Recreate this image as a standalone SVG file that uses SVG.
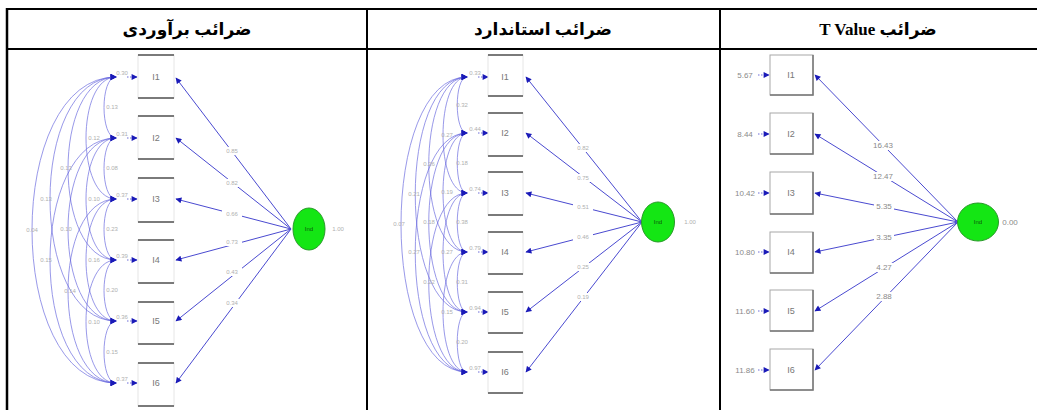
<svg xmlns="http://www.w3.org/2000/svg" width="1037" height="410" viewBox="0 0 1037 410">
<defs>
<marker id="ah" viewBox="0 0 10 10" refX="9" refY="5" markerWidth="7" markerHeight="6" markerUnits="userSpaceOnUse" orient="auto-start-reverse">
<path d="M0,0 L10,5 L0,10 Z" fill="#1a1ab8"/>
</marker>
<style>
.grid{stroke:#000;stroke-width:2;fill:none}
.hdr{font-family:"Liberation Serif","DejaVu Sans",serif;font-weight:bold;font-size:17px;fill:#000;text-anchor:middle}
.bar{stroke:#7a7a7a;stroke-width:2}
.side{stroke:#e6e6e6;stroke-width:1;fill:#fff}
.box3{stroke:#a8a8a8;stroke-width:1;fill:#fff}
.shad{stroke:#777;stroke-width:1.5}
.lbl{font-family:"Liberation Sans",sans-serif;font-size:9px;fill:#777;text-anchor:middle}
.num{font-family:"Liberation Sans",sans-serif;font-size:6px;fill:#b0b0b0;text-anchor:middle}
.num3{font-family:"Liberation Sans",sans-serif;font-size:8px;fill:#8a8a8a;text-anchor:middle}
.pth{stroke:#4a4ad0;stroke-width:1;fill:none;marker-end:url(#ah)}
.err{stroke:#6a6ad8;stroke-width:1;stroke-dasharray:1.5 1.5;fill:none;marker-end:url(#ah)}
.cov{stroke:#6060dd;stroke-width:0.8;fill:none;opacity:0.8;marker-start:url(#ah);marker-end:url(#ah)}
.lat{fill:#14e614;stroke:#2a9a2a;stroke-width:1}
.latl{font-family:"Liberation Sans",sans-serif;font-size:6px;fill:#0a5a0a;text-anchor:middle}
.bg{fill:#fff}
</style>
</defs>

<g id="table">
<line class="grid" x1="6" y1="9" x2="1037" y2="9"/>
<line class="grid" x1="6" y1="49" x2="1037" y2="49"/>
<line class="grid" x1="7" y1="8" x2="7" y2="410" style="stroke-width:2.5"/>
<line class="grid" x1="367" y1="8" x2="367" y2="410"/>
<line class="grid" x1="720" y1="8" x2="720" y2="410"/>
<text class="hdr" x="187" y="35" direction="rtl">ضرائب برآوردی</text>
<text class="hdr" x="543" y="35" direction="rtl">ضرائب استاندارد</text>
<text class="hdr" x="878" y="35" direction="rtl">ضرائب T Value</text>
</g>

<!-- Panel 1 -->
<g id="p1-connectors">
<path class="pth" d="M291 229 L176 78"/>
<path class="pth" d="M291 229 L176 138"/>
<path class="pth" d="M291 229 L176 199"/>
<path class="pth" d="M291 229 L176 260"/>
<path class="pth" d="M291 229 L176 321"/>
<path class="pth" d="M291 229 L176 383"/>
<path class="err" d="M127 77 L137 77"/>
<path class="err" d="M127 138 L137 138"/>
<path class="err" d="M127 199 L137 199"/>
<path class="err" d="M127 260 L137 260"/>
<path class="err" d="M127 321 L137 321"/>
<path class="err" d="M127 383 L137 383"/>
<path class="cov" d="M116 77 C100 77 100 138 116 138"/>
<path class="cov" d="M116 77 C76 77 76 199 116 199"/>
<path class="cov" d="M116 77 C52 77 52 260 116 260"/>
<path class="cov" d="M116 77 C28 77 28 321 116 321"/>
<path class="cov" d="M116 77 C4 77 4 383 116 383"/>
<path class="cov" d="M116 138 C100 138 100 199 116 199"/>
<path class="cov" d="M116 138 C76 138 76 260 116 260"/>
<path class="cov" d="M116 138 C52 138 52 321 116 321"/>
<path class="cov" d="M116 138 C28 138 28 383 116 383"/>
<path class="cov" d="M116 199 C100 199 100 260 116 260"/>
<path class="cov" d="M116 199 C76 199 76 321 116 321"/>
<path class="cov" d="M116 199 C52 199 52 383 116 383"/>
<path class="cov" d="M116 260 C100 260 100 321 116 321"/>
<path class="cov" d="M116 260 C76 260 76 383 116 383"/>
<path class="cov" d="M116 321 C100 321 100 383 116 383"/>
</g>
<g id="p1-labels">
<rect class="bg" x="222" y="147" width="20" height="8"/><text class="num" x="232" y="153">0.85</text>
<rect class="bg" x="222" y="179" width="20" height="8"/><text class="num" x="232" y="185">0.82</text>
<rect class="bg" x="222" y="210" width="20" height="8"/><text class="num" x="232" y="216">0.66</text>
<rect class="bg" x="222" y="238" width="20" height="8"/><text class="num" x="232" y="244">0.73</text>
<rect class="bg" x="222" y="268" width="20" height="8"/><text class="num" x="232" y="274">0.43</text>
<rect class="bg" x="222" y="299" width="20" height="8"/><text class="num" x="232" y="305">0.34</text>
<text class="num" x="122" y="75">0.30</text>
<text class="num" x="122" y="136">0.31</text>
<text class="num" x="122" y="197">0.37</text>
<text class="num" x="122" y="258">0.39</text>
<text class="num" x="122" y="319">0.36</text>
<text class="num" x="122" y="381">0.37</text>
<text class="num" x="112" y="109">0.13</text>
<text class="num" x="94" y="140">0.12</text>
<text class="num" x="66" y="170">0.13</text>
<text class="num" x="46" y="201">0.13</text>
<text class="num" x="32" y="232">0.04</text>
<text class="num" x="112" y="170">0.08</text>
<text class="num" x="94" y="201">0.10</text>
<text class="num" x="66" y="231">0.10</text>
<text class="num" x="46" y="262">0.15</text>
<text class="num" x="112" y="231">0.23</text>
<text class="num" x="94" y="262">0.16</text>
<text class="num" x="70" y="293">0.14</text>
<text class="num" x="112" y="292">0.20</text>
<text class="num" x="94" y="324">0.10</text>
<text class="num" x="112" y="354">0.15</text>
<text class="num" x="338" y="231">1.00</text>
</g>
<g id="p1-I1"><rect class="side" x="138" y="55" width="36" height="43"/><line class="bar" x1="138" y1="55" x2="174" y2="55"/><line class="bar" x1="138" y1="98" x2="174" y2="98"/><text class="lbl" x="156" y="80">I1</text></g>
<g id="p1-I2"><rect class="side" x="138" y="116" width="36" height="43"/><line class="bar" x1="138" y1="116" x2="174" y2="116"/><line class="bar" x1="138" y1="159" x2="174" y2="159"/><text class="lbl" x="156" y="141">I2</text></g>
<g id="p1-I3"><rect class="side" x="138" y="178" width="36" height="44"/><line class="bar" x1="138" y1="178" x2="174" y2="178"/><line class="bar" x1="138" y1="222" x2="174" y2="222"/><text class="lbl" x="156" y="202">I3</text></g>
<g id="p1-I4"><rect class="side" x="138" y="240" width="36" height="43"/><line class="bar" x1="138" y1="240" x2="174" y2="240"/><line class="bar" x1="138" y1="283" x2="174" y2="283"/><text class="lbl" x="156" y="263">I4</text></g>
<g id="p1-I5"><rect class="side" x="138" y="302" width="36" height="42"/><line class="bar" x1="138" y1="302" x2="174" y2="302"/><line class="bar" x1="138" y1="344" x2="174" y2="344"/><text class="lbl" x="156" y="324">I5</text></g>
<g id="p1-I6"><rect class="side" x="138" y="363" width="36" height="43"/><line class="bar" x1="138" y1="363" x2="174" y2="363"/><line class="bar" x1="138" y1="406" x2="174" y2="406"/><text class="lbl" x="156" y="386">I6</text></g>
<g id="p1-Ind"><ellipse class="lat" cx="309" cy="229" rx="16" ry="21"/><text class="latl" x="309" y="231">Ind</text></g>

<!-- Panel 2 -->
<g id="p2-connectors">
<path class="pth" d="M642 222 L526 77"/>
<path class="pth" d="M642 222 L526 133"/>
<path class="pth" d="M642 222 L526 193"/>
<path class="pth" d="M642 222 L526 252"/>
<path class="pth" d="M642 222 L526 312"/>
<path class="pth" d="M642 222 L526 372"/>
<path class="err" d="M478 77 L488 77"/>
<path class="err" d="M478 133 L488 133"/>
<path class="err" d="M478 193 L488 193"/>
<path class="err" d="M478 252 L488 252"/>
<path class="err" d="M478 312 L488 312"/>
<path class="err" d="M478 372 L488 372"/>
<path class="cov" d="M467 77 C454 77 454 133 467 133"/>
<path class="cov" d="M467 77 C435 77 435 193 467 193"/>
<path class="cov" d="M467 77 C416 77 416 252 467 252"/>
<path class="cov" d="M467 77 C398 77 398 312 467 312"/>
<path class="cov" d="M467 77 C379 77 379 372 467 372"/>
<path class="cov" d="M467 133 C454 133 454 193 467 193"/>
<path class="cov" d="M467 133 C435 133 435 252 467 252"/>
<path class="cov" d="M467 133 C416 133 416 312 467 312"/>
<path class="cov" d="M467 133 C398 133 398 372 467 372"/>
<path class="cov" d="M467 193 C454 193 454 252 467 252"/>
<path class="cov" d="M467 193 C435 193 435 312 467 312"/>
<path class="cov" d="M467 193 C416 193 416 372 467 372"/>
<path class="cov" d="M467 252 C454 252 454 312 467 312"/>
<path class="cov" d="M467 252 C435 252 435 372 467 372"/>
<path class="cov" d="M467 312 C454 312 454 372 467 372"/>
</g>
<g id="p2-labels">
<rect class="bg" x="573" y="144" width="20" height="8"/><text class="num" x="583" y="150">0.82</text>
<rect class="bg" x="573" y="174" width="20" height="8"/><text class="num" x="583" y="180">0.75</text>
<rect class="bg" x="573" y="203" width="20" height="8"/><text class="num" x="583" y="209">0.51</text>
<rect class="bg" x="573" y="233" width="20" height="8"/><text class="num" x="583" y="239">0.46</text>
<rect class="bg" x="573" y="263" width="20" height="8"/><text class="num" x="583" y="269">0.25</text>
<rect class="bg" x="573" y="293" width="20" height="8"/><text class="num" x="583" y="299">0.19</text>
<text class="num" x="475" y="75">0.33</text>
<text class="num" x="475" y="131">0.44</text>
<text class="num" x="475" y="191">0.74</text>
<text class="num" x="475" y="250">0.79</text>
<text class="num" x="475" y="310">0.94</text>
<text class="num" x="475" y="370">0.97</text>
<text class="num" x="462" y="107">0.32</text>
<text class="num" x="447" y="137">0.27</text>
<text class="num" x="429" y="166">0.26</text>
<text class="num" x="414" y="196">0.21</text>
<text class="num" x="399" y="226">0.07</text>
<text class="num" x="462" y="165">0.18</text>
<text class="num" x="447" y="194">0.19</text>
<text class="num" x="429" y="224">0.18</text>
<text class="num" x="414" y="254">0.27</text>
<text class="num" x="462" y="224">0.38</text>
<text class="num" x="447" y="254">0.27</text>
<text class="num" x="429" y="284">0.22</text>
<text class="num" x="462" y="284">0.31</text>
<text class="num" x="447" y="314">0.15</text>
<text class="num" x="462" y="344">0.20</text>
<text class="num" x="690" y="224">1.00</text>
</g>
<g id="p2-I1"><rect class="side" x="488" y="55" width="35" height="41"/><line class="bar" x1="488" y1="55" x2="523" y2="55"/><line class="bar" x1="488" y1="96" x2="523" y2="96"/><text class="lbl" x="505" y="80">I1</text></g>
<g id="p2-I2"><rect class="side" x="488" y="113" width="35" height="43"/><line class="bar" x1="488" y1="113" x2="523" y2="113"/><line class="bar" x1="488" y1="156" x2="523" y2="156"/><text class="lbl" x="505" y="136">I2</text></g>
<g id="p2-I3"><rect class="side" x="488" y="172" width="35" height="43"/><line class="bar" x1="488" y1="172" x2="523" y2="172"/><line class="bar" x1="488" y1="215" x2="523" y2="215"/><text class="lbl" x="505" y="196">I3</text></g>
<g id="p2-I4"><rect class="side" x="488" y="232" width="35" height="42"/><line class="bar" x1="488" y1="232" x2="523" y2="232"/><line class="bar" x1="488" y1="274" x2="523" y2="274"/><text class="lbl" x="505" y="255">I4</text></g>
<g id="p2-I5"><rect class="side" x="488" y="292" width="35" height="41"/><line class="bar" x1="488" y1="292" x2="523" y2="292"/><line class="bar" x1="488" y1="333" x2="523" y2="333"/><text class="lbl" x="505" y="315">I5</text></g>
<g id="p2-I6"><rect class="side" x="488" y="352" width="35" height="41"/><line class="bar" x1="488" y1="352" x2="523" y2="352"/><line class="bar" x1="488" y1="393" x2="523" y2="393"/><text class="lbl" x="505" y="375">I6</text></g>
<g id="p2-Ind"><ellipse class="lat" cx="658" cy="222" rx="16.5" ry="20"/><text class="latl" x="658" y="224">Ind</text></g>

<!-- Panel 3 -->
<g id="p3-connectors">
<path class="pth" d="M958 222 L815 75"/>
<path class="pth" d="M958 222 L815 134"/>
<path class="pth" d="M958 222 L815 193"/>
<path class="pth" d="M958 222 L815 252"/>
<path class="pth" d="M958 222 L815 311"/>
<path class="pth" d="M958 222 L815 370"/>
<path class="err" d="M758 75 L769 75"/>
<path class="err" d="M758 134 L769 134"/>
<path class="err" d="M758 193 L769 193"/>
<path class="err" d="M758 252 L769 252"/>
<path class="err" d="M758 311 L769 311"/>
<path class="err" d="M758 370 L769 370"/>
</g>
<g id="p3-labels">
<rect class="bg" x="872" y="141" width="22" height="9"/><text class="num3" x="883" y="148">16.43</text>
<rect class="bg" x="872" y="172" width="22" height="9"/><text class="num3" x="883" y="179">12.47</text>
<rect class="bg" x="874" y="202" width="20" height="9"/><text class="num3" x="884" y="209">5.35</text>
<rect class="bg" x="874" y="233" width="20" height="9"/><text class="num3" x="884" y="240">3.35</text>
<rect class="bg" x="874" y="263" width="20" height="9"/><text class="num3" x="884" y="270">4.27</text>
<rect class="bg" x="874" y="292" width="20" height="9"/><text class="num3" x="884" y="299">2.88</text>
<text class="num3" x="745" y="78">5.67</text>
<text class="num3" x="745" y="137">8.44</text>
<text class="num3" x="745" y="196">10.42</text>
<text class="num3" x="745" y="255">10.80</text>
<text class="num3" x="745" y="314">11.60</text>
<text class="num3" x="745" y="373">11.86</text>
<text class="num3" x="1010" y="225">0.00</text>
</g>
<g id="p3-I1"><rect class="box3" x="770" y="55" width="43" height="40"/><polyline class="shad" points="770,95 813,95 813,55" fill="none"/><text class="lbl" x="791" y="78">I1</text></g>
<g id="p3-I2"><rect class="box3" x="770" y="113" width="43" height="41"/><polyline class="shad" points="770,154 813,154 813,113" fill="none"/><text class="lbl" x="791" y="137">I2</text></g>
<g id="p3-I3"><rect class="box3" x="770" y="172" width="43" height="42"/><polyline class="shad" points="770,214 813,214 813,172" fill="none"/><text class="lbl" x="791" y="196">I3</text></g>
<g id="p3-I4"><rect class="box3" x="770" y="232" width="43" height="41"/><polyline class="shad" points="770,273 813,273 813,232" fill="none"/><text class="lbl" x="791" y="255">I4</text></g>
<g id="p3-I5"><rect class="box3" x="770" y="290" width="43" height="41"/><polyline class="shad" points="770,331 813,331 813,290" fill="none"/><text class="lbl" x="791" y="314">I5</text></g>
<g id="p3-I6"><rect class="box3" x="770" y="349" width="43" height="41"/><polyline class="shad" points="770,390 813,390 813,349" fill="none"/><text class="lbl" x="791" y="373">I6</text></g>
<g id="p3-Ind"><ellipse class="lat" cx="978" cy="222" rx="20.5" ry="19"/><text class="latl" x="978" y="224">Ind</text></g>
</svg>
